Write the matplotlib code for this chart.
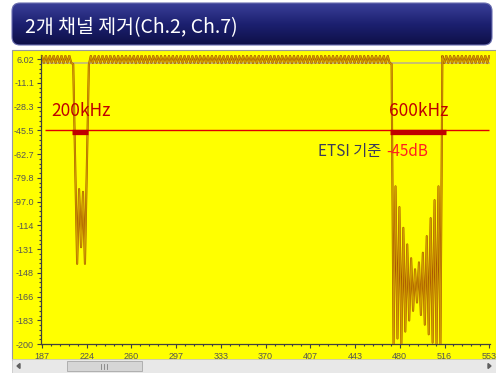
import numpy as np
import matplotlib
matplotlib.use("Agg")
import matplotlib.pyplot as plt
from matplotlib.patches import FancyBboxPatch, Rectangle, Polygon
from matplotlib.colors import LinearSegmentedColormap
from matplotlib.ticker import AutoMinorLocator

plt.rcParams['font.family'] = ['Noto Sans CJK KR', 'DejaVu Sans']

# ---- data ----
title = "2개 채널 제거(Ch.2, Ch.7)"
x_start, x_stop = 187, 553
x_labels = ["187", "224", "260", "297", "333", "370", "407", "443", "480", "516", "553"]
y_top, y_bottom = 6.02, -200
y_labels = ["6.02", "-11.1", "-28.3", "-45.5", "-62.7", "-79.8", "-97.0",
            "-114", "-131", "-148", "-166", "-183", "-200"]

# sweep levels (dB), evenly spaced points from 187 to 553
level_left = [8.3, 3.3, 8.5, 3.1, 8.4, 3.4, 8.6, 3.2, 8.3, 3.3, 8.5, 3.1, 8.4, 3.5, 8.6, 3.2]
notch_ch2 = [2.5, -68, -142, -88, -130, -90, -142, -70, 2.0]
level_mid = [8.4, 3.2, 8.6, 3.3, 8.3, 3.1, 8.5, 3.4, 8.4, 3.2, 8.6, 3.3, 8.3, 3.2, 8.5, 3.1,
             8.4, 3.3, 8.6, 3.2, 8.3, 3.4, 8.5, 3.1, 8.4, 3.3, 8.6, 3.2, 8.3, 3.1, 8.5, 3.3,
             8.4, 3.2, 8.6, 3.4, 8.3, 3.2, 8.5, 3.1, 8.4, 3.3, 8.6, 3.2, 8.3, 3.3, 8.5, 3.1,
             8.4, 3.4, 8.6, 3.2, 8.3, 3.3, 8.5, 3.2, 8.4, 3.1, 8.6, 3.3, 8.3, 3.2, 8.5, 3.4,
             8.4, 3.2, 8.6, 3.1, 8.3, 3.3, 8.5, 3.2, 8.4, 3.3, 8.6, 3.1, 8.3, 3.4, 8.5, 3.2,
             8.4, 3.3, 8.6, 3.2, 8.3, 3.1, 8.5, 3.3, 8.4, 3.2, 8.6, 3.4, 8.3, 3.2, 8.5, 3.1,
             8.4, 3.3, 8.6, 3.2, 8.3, 3.3, 8.5, 3.1, 8.4, 3.4, 8.6, 3.2, 8.3, 3.3, 8.5, 3.2,
             8.4, 3.1, 8.6, 3.3, 8.3, 3.2, 8.5, 3.4, 8.4, 3.2, 8.6, 3.1, 8.3, 3.3, 8.5, 3.2,
             8.4, 3.3, 8.6, 3.1, 8.3, 3.4, 8.5, 3.2, 8.4, 3.3, 8.6, 3.2, 8.3, 3.1, 8.5, 3.3,
             8.4, 3.2, 8.6, 3.4, 8.3, 3.2, 8.5, 3.1, 8.4, 3.3]
notch_ch7 = [2.5, -200, -86, -196, -101, -200, -116, -191, -128, -183, -138, -176, -146,
             -170, -141, -179, -134, -186, -122, -193, -109, -199, -96, -200, -86, -200]
level_right = [8.4, 3.2, 8.6, 3.3, 8.3, 3.1, 8.5, 3.4, 8.4, 3.2, 8.6, 3.3, 8.3,
               3.2, 8.5, 3.1, 8.4, 3.3, 8.6, 3.2, 8.3, 3.4, 8.5, 3.1, 8.4]
ref_level = 3.0

limit_db = -45.5
limit_from = 189.5
bw_ch2 = (211.5, 224.6)
bw_ch7 = (472.1, 517.9)
bw_labels = ["200kHz", "600kHz"]

level = np.array(level_left + notch_ch2 + level_mid + notch_ch7 + level_right)
freq = np.linspace(x_start, x_stop, len(level))

W, H = 496, 373
fig = plt.figure(figsize=(W / 100, H / 100), dpi=100, facecolor="white")

# background layer in pixel coords
bg = fig.add_axes([0, 0, 1, 1], zorder=0)
bg.set_xlim(0, W)
bg.set_ylim(H, 0)
bg.axis("off")

banner = FancyBboxPatch((12, 3), 480, 42, boxstyle="round,pad=0,rounding_size=8",
                        facecolor="none", edgecolor="#6a6eb0", linewidth=0.8)
bg.add_patch(banner)
navy = LinearSegmentedColormap.from_list("navy", ["#3a3f98", "#1c2070", "#0e1048"])
grad = np.linspace(0, 1, 64).reshape(-1, 1)
im = bg.imshow(grad, extent=(12, 492, 45, 3), cmap=navy, aspect="auto")
im.set_clip_path(banner)
bg.set_xlim(0, W)
bg.set_ylim(H, 0)
bg.text(25, 28, title, color="white", fontsize=14, va="center", ha="left")

# yellow panel + scrollbar
bg.add_patch(Rectangle((12, 50), 484, 310, facecolor="#ffff00", edgecolor="#9a9a9a", linewidth=0.8))
bg.add_patch(Rectangle((12, 359), 484, 14, facecolor="#e8e8e8", edgecolor="#c0c0c0", linewidth=0.5))
bg.add_patch(Rectangle((67, 361), 75, 10, facecolor="#d6d6d6", edgecolor="#a8a8a8", linewidth=0.6))
for gx in (101, 104, 107):
    bg.plot([gx, gx], [363.5, 368.5], color="#808080", lw=0.6)
bg.add_patch(Polygon([[17, 366], [20, 363.5], [20, 368.5]], closed=True, color="#606060"))
bg.add_patch(Polygon([[491, 366], [488, 363.5], [488, 368.5]], closed=True, color="#606060"))

# spectrum axes
ax = fig.add_axes([41 / W, 1 - 344 / H, (490 - 41) / W, (344 - 55) / H], zorder=1)
ax.set_facecolor("#ffff00")
ax.set_xlim(186.2, 553.6)
ax.set_ylim(y_bottom, 9.0)

ax.axhline(ref_level, color="#c8c070", lw=1.4, zorder=1)
ax.plot(freq, level, color="#a85400", lw=1.5, zorder=2)
ax.plot(freq, level, color="#d09c00", lw=0.8, zorder=3)

ax.hlines(limit_db, limit_from, x_stop, color="#e00000", lw=1.0, zorder=4)
for (a, b), lab in zip([bw_ch2, bw_ch7], bw_labels):
    ax.hlines(limit_db - 1.3, a, b, color="#c00000", lw=3.8, zorder=5)
    ax.text((a + b) / 2 + 0.5, -31.5, lab, color="#c00000", fontsize=12.5,
            ha="center", va="center", zorder=6)

fig.text(385 / W, 1 - 151 / H, "ETSI 기준 ", color="#3a3a5a", fontsize=11, ha="right", va="center")
fig.text(386 / W, 1 - 151 / H, "-45dB", color="#ff2020", fontsize=11, ha="left", va="center")

ax.set_xticks(np.linspace(x_start, x_stop, len(x_labels)))
ax.set_xticklabels(x_labels)
ax.set_yticks(np.linspace(y_top, y_bottom, len(y_labels)))
ax.set_yticklabels(y_labels)
ax.xaxis.set_minor_locator(AutoMinorLocator(5))
ax.yaxis.set_minor_locator(AutoMinorLocator(5))
for lab in ax.get_xticklabels() + ax.get_yticklabels():
    lab.set_family(["Liberation Sans", "DejaVu Sans"])
ax.tick_params(axis="both", which="major", length=3, width=0.8, color="#404040",
               labelsize=6.5, labelcolor="#555555")
ax.tick_params(axis="both", which="minor", length=1.5, width=0.8, color="#404040")
ax.tick_params(axis="x", pad=3)
ax.tick_params(axis="y", pad=2)
for s in ("top", "right"):
    ax.spines[s].set_visible(False)
for s in ("left", "bottom"):
    ax.spines[s].set_color("#404040")
    ax.spines[s].set_linewidth(0.9)

fig.savefig("out.png", dpi=100, facecolor="white")
